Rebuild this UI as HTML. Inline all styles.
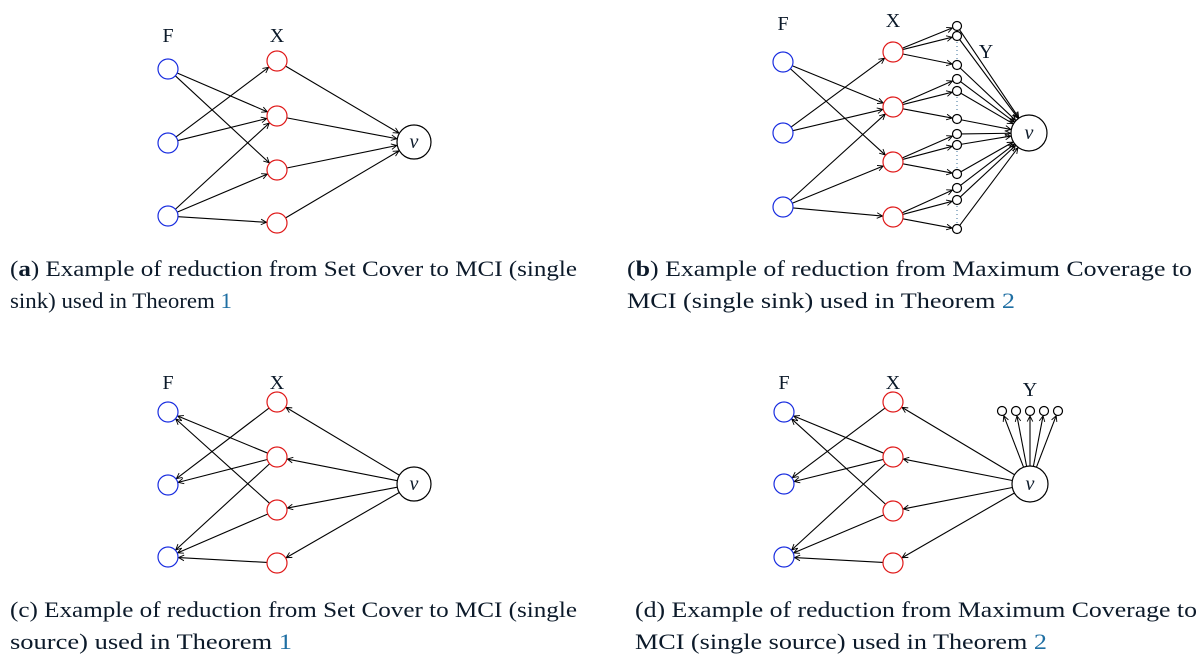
<!DOCTYPE html>
<html><head><meta charset="utf-8"><style>
html,body{margin:0;padding:0;background:#fff;}
svg{display:block}
text{font-family:"Liberation Serif",serif;}
.cap{font-size:22px;fill:#0c1a2a;}
.lnk{fill:#1f6fa3;}
</style></head><body>
<svg id="s" width="1200" height="663" viewBox="0 0 1200 663" xmlns="http://www.w3.org/2000/svg">
<defs>
<marker id="ah" viewBox="0 0 10 10" refX="9" refY="5" markerWidth="7" markerHeight="7" orient="auto" markerUnits="userSpaceOnUse">
<path d="M1,1 L9,5 L1,9" fill="none" stroke="#000" stroke-width="1.3"/>
</marker>
</defs>
<g id="g"></g>
<text class="cap" x="10" y="276" textLength="567" lengthAdjust="spacingAndGlyphs">(<tspan font-weight="bold">a</tspan>) Example of reduction from Set Cover to MCI (single</text>
<text class="cap" x="10" y="308" textLength="222" lengthAdjust="spacingAndGlyphs">sink) used in Theorem <tspan class="lnk">1</tspan></text>
<text class="cap" x="627" y="276" textLength="565" lengthAdjust="spacingAndGlyphs">(<tspan font-weight="bold">b</tspan>) Example of reduction from Maximum Coverage to</text>
<text class="cap" x="627" y="308" textLength="388" lengthAdjust="spacingAndGlyphs">MCI (single sink) used in Theorem <tspan class="lnk">2</tspan></text>
<text class="cap" x="10" y="617" textLength="567" lengthAdjust="spacingAndGlyphs">(c) Example of reduction from Set Cover to MCI (single</text>
<text class="cap" x="10" y="649" textLength="282" lengthAdjust="spacingAndGlyphs">source) used in Theorem <tspan class="lnk">1</tspan></text>
<text class="cap" x="635" y="617" textLength="562" lengthAdjust="spacingAndGlyphs">(d) Example of reduction from Maximum Coverage to</text>
<text class="cap" x="635" y="649" textLength="412" lengthAdjust="spacingAndGlyphs">MCI (single source) used in Theorem <tspan class="lnk">2</tspan></text>
</svg>
<script>
var g=document.getElementById('g'),NS="http://www.w3.org/2000/svg";
function el(t,a,txt){var e=document.createElementNS(NS,t);for(var k in a)e.setAttribute(k,a[k]);if(txt)e.textContent=txt;g.appendChild(e);return e;}
function circ(n,col){el('circle',{cx:n[0],cy:n[1],r:n[2],fill:'#fff',stroke:col,'stroke-width':1.2});}
function arrow(a,b){var dx=b[0]-a[0],dy=b[1]-a[1],d=Math.hypot(dx,dy),ux=dx/d,uy=dy/d;
el('line',{x1:a[0]+ux*a[2],y1:a[1]+uy*a[2],x2:b[0]-ux*(b[2]+0.5),y2:b[1]-uy*(b[2]+0.5),stroke:'#000','stroke-width':1.1,'marker-end':'url(#ah)'});}
function lbl(x,y,t,s,it){el('text',{x:x,y:y,'text-anchor':'middle','font-size':s||20,fill:'#0c1a2a','font-style':it?'italic':'normal'},t);}
var r=10;
function panel(fx,fy,xx,xy,v,rev,extra){
 var F=fy.map(function(y){return[fx,y,r]}),X=xy.map(function(y){return[xx,y,r]});
 var E=[[0,1],[0,2],[1,0],[1,1],[2,1],[2,2],[2,3]];
 E.forEach(function(e){rev?arrow(X[e[1]],F[e[0]]):arrow(F[e[0]],X[e[1]]);});
 if(extra)extra(X);
 else X.forEach(function(x){rev?arrow(v,x):arrow(x,v);});
 F.forEach(function(n){circ(n,'#1a2ee0')});X.forEach(function(n){circ(n,'#e01a1a')});
 circ(v,'#000');lbl(v[0],v[1]+6,'v',20,true);
 return X;
}
panel(168,[69,143,216],277,[61,116,170,223],[414,142,17],false);
lbl(168,42,'F');lbl(277,42,'X');
panel(168,[412,485,557],277,[402,457,510,563],[414,484,17],true);
lbl(168,389,'F');lbl(277,389,'X');
var vb=[1029,133,18];
panel(783,[62,133,207],893,[52,107,162,217],vb,false,function(X){
 var ys=[26,36,65,79,91,119,134,145,174,188,200,229];
 var Y=ys.map(function(y){return[957,y,4.5]});
 for(var i=0;i<4;i++){for(var j=0;j<3;j++)arrow(X[i],Y[i*3+j]);
  el('line',{x1:957,y1:ys[i*3+1]+6,x2:957,y2:ys[i*3+2]-6,stroke:'#3a6f9a','stroke-width':1,'stroke-dasharray':'1,3'});}
 Y.forEach(function(y){arrow(y,vb)});
 Y.forEach(function(y){circ(y,'#000')});
});
lbl(783,30,'F');lbl(893,27,'X');lbl(986,58,'Y');
var vd=[1030,484,18];
panel(784,[412,484,557],893,[402,457,511,563],vd,true,function(X){
 X.forEach(function(x){arrow(vd,x)});
 var Y=[1002,1016,1030,1044,1058].map(function(x){return[x,411,4.5]});
 Y.forEach(function(y){arrow(vd,y)});
 Y.forEach(function(y){circ(y,'#000')});
});
lbl(784,389,'F');lbl(893,389,'X');lbl(1030,396,'Y');
</script>
</body></html>
